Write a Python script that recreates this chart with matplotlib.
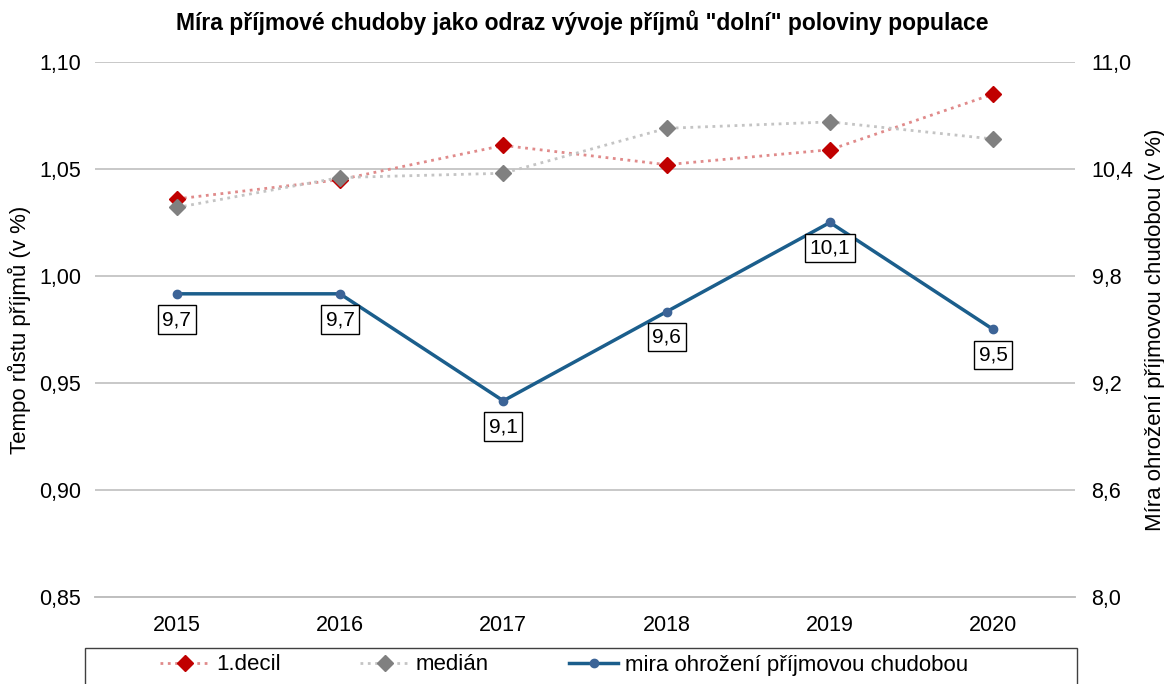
import matplotlib.pyplot as plt
from matplotlib.patches import Rectangle
from matplotlib.ticker import FuncFormatter

plt.rcParams['font.family'] = ['Liberation Sans', 'DejaVu Sans']

roky = ['2015', '2016', '2017', '2018', '2019', '2020']
decil_1 = [1.036, 1.045, 1.061, 1.052, 1.059, 1.085]
median = [1.032, 1.046, 1.048, 1.069, 1.072, 1.064]
mira_chudoby = [9.7, 9.7, 9.1, 9.6, 10.1, 9.5]


def carka(fmt):
    return FuncFormatter(lambda v, p: (fmt % v).replace('.', ','))


fig = plt.figure(figsize=(11.64, 6.84), dpi=100)
ax = fig.add_axes([0.0816, 0.1272, 0.8419, 0.7822])
ax2 = ax.twinx()

x = list(range(len(roky)))

ax.plot(x, decil_1, linestyle=':', color='#E08A8A', linewidth=2,
        marker='D', markersize=8, markerfacecolor='#C00000',
        markeredgecolor='#C00000', label='1.decil', zorder=3)
ax.plot(x, median, linestyle=':', color='#C4C4C4', linewidth=2,
        marker='D', markersize=8, markerfacecolor='#808080',
        markeredgecolor='#808080', label='medián', zorder=3)
ax2.plot(x, mira_chudoby, linestyle='-', color='#1B5E8C', linewidth=2.5,
         marker='o', markersize=6, markerfacecolor='#3C6497',
         markeredgecolor='#3C6497', label='mira ohrožení příjmovou chudobou')

for xi, v in zip(x, mira_chudoby):
    ax2.annotate(('%.1f' % v).replace('.', ','), (xi, v), xytext=(0, -18.5),
                 textcoords='offset points', ha='center', va='center',
                 fontsize=15,
                 bbox=dict(boxstyle='square,pad=0.22', facecolor='white',
                           edgecolor='black', linewidth=1))

ax.set_xlim(-0.5, 5.5)
ax.set_ylim(0.85, 1.10)
ax.set_yticks([0.85, 0.90, 0.95, 1.00, 1.05, 1.10])
ax.yaxis.set_major_formatter(carka('%.2f'))
ax2.set_ylim(8.0, 11.0)
ax2.set_yticks([8.0, 8.6, 9.2, 9.8, 10.4, 11.0])
ax2.yaxis.set_major_formatter(carka('%.1f'))
ax.set_xticks(x)
ax.set_xticklabels(roky)

ax.grid(axis='y', color='#BFBFBF', linewidth=1.2)
ax.set_axisbelow(True)
for a in (ax, ax2):
    for s in ('top', 'left', 'right'):
        a.spines[s].set_visible(False)
    a.spines['bottom'].set_color('#BFBFBF')
    a.spines['bottom'].set_linewidth(1.2)
    a.tick_params(length=0, labelsize=15.5, colors='black')
ax.tick_params(axis='x', pad=13)
ax.tick_params(axis='y', pad=10)
ax2.tick_params(axis='y', pad=12)

ax.set_ylabel('Tempo růstu příjmů (v %)', fontsize=16, labelpad=6)
ax2.set_ylabel('Míra ohrožení příjmovou chudobou (v %)', fontsize=16,
               labelpad=8)

fig.suptitle('Míra příjmové chudoby jako odraz vývoje příjmů "dolní" poloviny populace',
             fontsize=16.5, fontweight='bold', y=0.985)

# rámeček legendy (dole oříznutý jako v originálu)
fig.patches.append(Rectangle((85 / 1164, -0.05), 992 / 1164, 0.05 + 36 / 684,
                             transform=fig.transFigure, fill=False,
                             edgecolor='#404040', linewidth=1))

h1, l1 = ax.get_legend_handles_labels()
h2, l2 = ax2.get_legend_handles_labels()
leg = fig.legend(h1 + h2, l1 + l2, loc='center', ncol=3,
                 bbox_to_anchor=(564 / 1164, 1 - 665 / 684),
                 fontsize=16, frameon=False, handlelength=2.2,
                 handletextpad=0.3, columnspacing=3.6)

fig.savefig('out.png', dpi=100)
